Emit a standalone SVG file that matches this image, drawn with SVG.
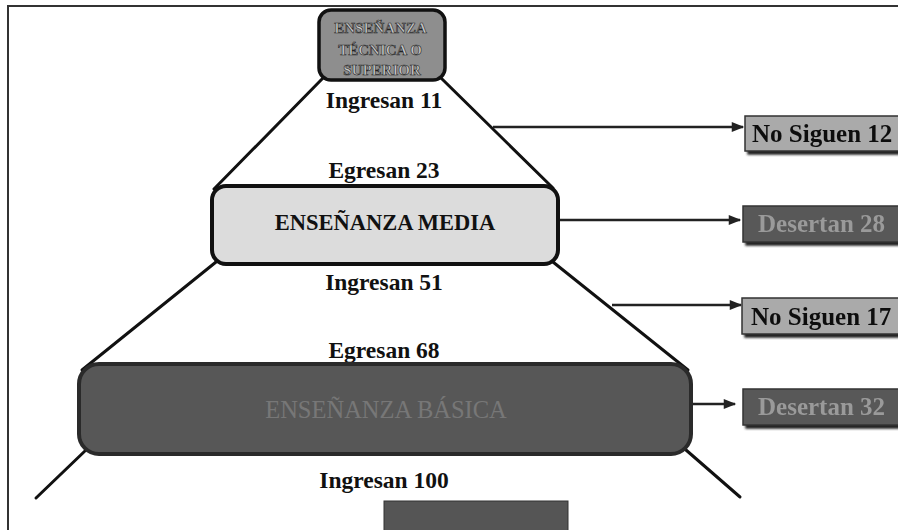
<svg xmlns="http://www.w3.org/2000/svg" width="898" height="530" viewBox="0 0 898 530">
<defs>
<marker id="arr" viewBox="0 0 10 10" refX="9" refY="5" markerWidth="6" markerHeight="5" orient="auto" markerUnits="strokeWidth">
<path d="M0,1 L10,5 L0,9 z" fill="#222"/>
</marker>
<filter id="shadow" x="-10%" y="-10%" width="130%" height="140%">
<feOffset dx="3" dy="3" in="SourceAlpha" result="o"/>
<feGaussianBlur in="o" stdDeviation="1" result="b"/>
<feFlood flood-color="#222"/>
<feComposite in2="b" operator="in"/>
<feMerge><feMergeNode/><feMergeNode in="SourceGraphic"/></feMerge>
</filter>
</defs>
<style>
.lbl{font-family:"Liberation Serif","Times New Roman",serif;font-weight:bold;font-size:23.5px;fill:#111;text-anchor:middle}
.side{font-family:"Liberation Serif","Times New Roman",serif;font-weight:bold;font-size:25px}
.edge{stroke:#111;stroke-width:3;fill:none;stroke-linecap:round}
.arrow{stroke:#222;stroke-width:2.5;fill:none;marker-end:url(#arr)}
</style>
<rect width="898" height="530" fill="#fff"/>
<path d="M8,530 L8,6 L898,6" stroke="#333" stroke-width="2" fill="none"/>

<g id="connectors">
<line class="edge" x1="323" y1="78" x2="214" y2="189"/>
<line class="edge" x1="441" y1="78" x2="553" y2="188"/>
<line class="edge" x1="216" y1="262" x2="82" y2="370"/>
<line class="edge" x1="553" y1="262" x2="688" y2="370"/>
<line class="edge" x1="86" y1="450" x2="36" y2="498"/>
<line class="edge" x1="686" y1="450" x2="740" y2="497"/>
<line class="arrow" x1="493" y1="127" x2="743" y2="127"/>
<line class="arrow" x1="559" y1="220" x2="740" y2="220"/>
<line class="arrow" x1="612" y1="305" x2="741" y2="305"/>
<line class="arrow" x1="692" y1="404" x2="735" y2="404"/>
</g>

<g id="superior">
<rect x="319" y="10" width="126" height="70" rx="12" fill="#8e8e8e" stroke="#111" stroke-width="3.5"/>
<text font-family="Liberation Serif, Times New Roman, serif" font-weight="bold" font-size="15" fill="#c8c8c8" stroke="#222" stroke-width="0.6" text-anchor="middle">
<tspan x="382" y="33">ENSEÑANZA</tspan>
<tspan x="382" y="55">TÉCNICA O</tspan>
<tspan x="382" y="75">SUPERIOR</tspan>
</text>
</g>
<g id="lbl-ing11"><text class="lbl" x="384" y="108">Ingresan 11</text></g>
<g id="lbl-egr23"><text class="lbl" x="384" y="178">Egresan 23</text></g>

<g id="media">
<rect x="212" y="186" width="346" height="78" rx="14" fill="#dcdcdc" stroke="#111" stroke-width="4"/>
<text x="385" y="230" font-family="Liberation Serif, Times New Roman, serif" font-weight="bold" font-size="22.5" fill="#111" text-anchor="middle">ENSEÑANZA MEDIA</text>
</g>
<g id="lbl-ing51"><text class="lbl" x="384" y="290">Ingresan 51</text></g>
<g id="lbl-egr68"><text class="lbl" x="384" y="358">Egresan 68</text></g>

<g id="basica">
<rect x="79" y="364" width="612" height="90" rx="20" fill="#575757" stroke="#2a2a2a" stroke-width="4"/>
<text x="386" y="418" font-family="Liberation Serif, Times New Roman, serif" font-size="24.5" fill="#777" text-anchor="middle">ENSEÑANZA BÁSICA</text>
</g>
<g id="lbl-ing100"><text class="lbl" x="384" y="488">Ingresan 100</text></g>

<g id="bottom-box">
<rect x="384" y="501" width="184" height="32" fill="#555" stroke="#333" stroke-width="1"/>
</g>

<g id="nosiguen12" filter="url(#shadow)">
<rect x="745" y="116" width="160" height="35" fill="#aaa" stroke="#333" stroke-width="1.5"/>
<text class="side" x="752" y="142" fill="#111">No Siguen 12</text>
</g>
<g id="desertan28" filter="url(#shadow)">
<rect x="743" y="206" width="160" height="36" fill="#585858" stroke="#333" stroke-width="1.5"/>
<text class="side" x="758" y="232" fill="#9a9a9a">Desertan 28</text>
</g>
<g id="nosiguen17" filter="url(#shadow)">
<rect x="742" y="298" width="160" height="36" fill="#aaa" stroke="#333" stroke-width="1.5"/>
<text class="side" x="751" y="325" fill="#111">No Siguen 17</text>
</g>
<g id="desertan32" filter="url(#shadow)">
<rect x="743" y="389" width="160" height="36" fill="#585858" stroke="#333" stroke-width="1.5"/>
<text class="side" x="758" y="415" fill="#9a9a9a">Desertan 32</text>
</g>
</svg>
